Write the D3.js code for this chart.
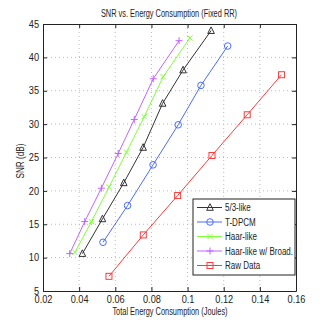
<!DOCTYPE html>
<html>
<head>
<meta charset="utf-8">
<script src="https://cdn.jsdelivr.net/npm/d3@7"></script>
<style>
  body { margin: 0; background: #fff; }
  text { font-family: "Liberation Sans", Arial, sans-serif; fill: #222; }
</style>
</head>
<body>
<div id="chart"></div>
<script>
var seriesNames = ["5/3-like", "T-DPCM", "Haar-like", "Haar-like w/ Broad.", "Raw Data"];
var seriesColors = ["#333333", "#4d6bff", "#7fff3a", "#c462ff", "#ff3a3a"];
var seriesMarkers = ["triangle", "circle", "x", "plus", "square"];

var energy53 = [0.0418, 0.0529, 0.0647, 0.0754, 0.0862, 0.0975, 0.113];
var snr53 = [10.6, 15.8, 21.2, 26.5, 33.1, 38.1, 44.0];
var energyTdpcm = [0.0532, 0.0668, 0.0809, 0.0948, 0.1074, 0.1222];
var snrTdpcm = [12.3, 17.8, 23.9, 29.9, 35.8, 41.7];
var energyHaar = [0.0377, 0.0468, 0.0566, 0.0662, 0.076, 0.0865, 0.1013];
var snrHaar = [10.8, 15.4, 20.6, 25.8, 31.1, 37.1, 42.9];
var energyBroad = [0.0348, 0.0431, 0.0523, 0.0616, 0.0705, 0.081, 0.0953];
var snrBroad = [10.6, 15.4, 20.4, 25.6, 30.7, 36.8, 42.5];
var energyRaw = [0.0565, 0.0755, 0.0945, 0.1135, 0.133, 0.152];
var snrRaw = [7.2, 13.4, 19.3, 25.3, 31.4, 37.4];

var xTicks = [0.02, 0.04, 0.06, 0.08, 0.1, 0.12, 0.14, 0.16];
var yTicks = [5, 10, 15, 20, 25, 30, 35, 40, 45];

var allX = [energy53, energyTdpcm, energyHaar, energyBroad, energyRaw];
var allY = [snr53, snrTdpcm, snrHaar, snrBroad, snrRaw];

var series = seriesNames.map(function (name, i) {
    return {
        name: name,
        color: seriesColors[i],
        marker: seriesMarkers[i],
        points: allX[i].map(function (v, j) { return [v, allY[i][j]]; })
    };
});

var width = 327, height = 327;
var margin = {top: 24, right: 31, bottom: 36, left: 43};
var w = width - margin.left - margin.right,
    h = height - margin.top - margin.bottom;

var svg = d3.select("#chart").append("svg")
    .attr("width", width)
    .attr("height", height);

var g = svg.append("g")
    .attr("transform", "translate(" + margin.left + "," + margin.top + ")");

var x = d3.scaleLinear().domain([0.02, 0.16]).range([0, w]);
var y = d3.scaleLinear().domain([5, 45]).range([h, 0]);

// condensed look of the original font
function squeeze(sel, factor) {
    sel.each(function () {
        var len = this.getComputedTextLength();
        d3.select(this).attr("textLength", len * factor).attr("lengthAdjust", "spacingAndGlyphs");
    });
}

// grid
g.selectAll(".vgrid").data(xTicks.slice(1, -1)).enter().append("line")
    .attr("x1", function (d) { return x(d); }).attr("x2", function (d) { return x(d); })
    .attr("y1", 0).attr("y2", h)
    .attr("stroke", "#aaa").attr("stroke-width", 0.8).attr("stroke-dasharray", "1,3");
g.selectAll(".hgrid").data(yTicks.slice(1, -1)).enter().append("line")
    .attr("y1", function (d) { return y(d); }).attr("y2", function (d) { return y(d); })
    .attr("x1", 0).attr("x2", w)
    .attr("stroke", "#aaa").attr("stroke-width", 0.8).attr("stroke-dasharray", "1,3");

// axes
var xAxis = g.append("g").attr("transform", "translate(0," + h + ")")
    .call(d3.axisBottom(x).tickValues(xTicks).tickSizeInner(-4).tickSizeOuter(0).tickPadding(5)
        .tickFormat(function (d) { return String(+d.toFixed(2)); }));
var yAxis = g.append("g")
    .call(d3.axisLeft(y).tickValues(yTicks).tickSizeInner(-4).tickSizeOuter(0).tickPadding(4));
var xTop = g.append("g")
    .call(d3.axisTop(x).tickValues(xTicks).tickSizeInner(-4).tickSizeOuter(0).tickFormat(""));
var yRight = g.append("g").attr("transform", "translate(" + w + ",0)")
    .call(d3.axisRight(y).tickValues(yTicks).tickSizeInner(-4).tickSizeOuter(0).tickFormat(""));
[xAxis, yAxis, xTop, yRight].forEach(function (a) {
    a.selectAll("path").attr("stroke", "#222");
    a.selectAll("line").attr("stroke", "#222");
    a.selectAll("text").style("font-size", "10px").attr("fill", "#222");
});
squeeze(xAxis.selectAll("text"), 0.92);
squeeze(yAxis.selectAll("text"), 0.92);

// lines and markers
var line = d3.line().x(function (d) { return x(d[0]); }).y(function (d) { return y(d[1]); });

function drawMarker(sel, type, color) {
    var s = 3.3;
    if (type === "triangle") {
        sel.append("path").attr("d", "M0," + (-s - 0.5) + "L" + s + "," + (s - 0.5) + "L" + (-s) + "," + (s - 0.5) + "Z")
            .attr("fill", "none").attr("stroke", color);
    } else if (type === "circle") {
        sel.append("circle").attr("r", s).attr("fill", "none").attr("stroke", color);
    } else if (type === "x") {
        sel.append("path").attr("d", "M-2.6,-2.6L2.6,2.6M-2.6,2.6L2.6,-2.6").attr("stroke", color);
    } else if (type === "plus") {
        sel.append("path").attr("d", "M-3.5,0L3.5,0M0,-3.5L0,3.5").attr("stroke", color);
    } else if (type === "square") {
        sel.append("rect").attr("x", -3).attr("y", -3).attr("width", 6).attr("height", 6)
            .attr("fill", "none").attr("stroke", color);
    }
}

series.forEach(function (s) {
    g.append("path").datum(s.points)
        .attr("d", line)
        .attr("fill", "none")
        .attr("stroke", s.color)
        .attr("stroke-width", 1);
    g.selectAll(null).data(s.points).enter().append("g")
        .attr("transform", function (d) { return "translate(" + x(d[0]) + "," + y(d[1]) + ")"; })
        .each(function () { drawMarker(d3.select(this), s.marker, s.color); });
});

// legend
var legend = svg.append("g").attr("transform", "translate(193,199)");
legend.append("rect").attr("width", 102).attr("height", 76)
    .attr("fill", "#fff").attr("stroke", "#222").attr("stroke-width", 1);
series.forEach(function (s, i) {
    var row = legend.append("g").attr("transform", "translate(0," + (8.5 + i * 14.5) + ")");
    row.append("line").attr("x1", 4).attr("x2", 29).attr("stroke", s.color);
    drawMarker(row.append("g").attr("transform", "translate(17,0)"), s.marker, s.color);
    row.append("text").attr("x", 32).attr("dy", "0.35em").style("font-size", "10px").text(s.name);
});
squeeze(legend.selectAll("text"), 0.8);

// titles
var title = svg.append("text").attr("x", 169).attr("y", 17).attr("text-anchor", "middle")
    .style("font-size", "10px").text("SNR vs. Energy Consumption (Fixed RR)");
var xLabel = svg.append("text").attr("x", 170).attr("y", 315).attr("text-anchor", "middle")
    .style("font-size", "10px").text("Total Energy Consumption (Joules)");
var yLabel = svg.append("text").attr("transform", "translate(24,161)rotate(-90)").attr("text-anchor", "middle")
    .style("font-size", "10px").text("SNR (dB)");
squeeze(title, 0.74);
squeeze(xLabel, 0.74);
squeeze(yLabel, 0.82);
</script>
</body>
</html>
